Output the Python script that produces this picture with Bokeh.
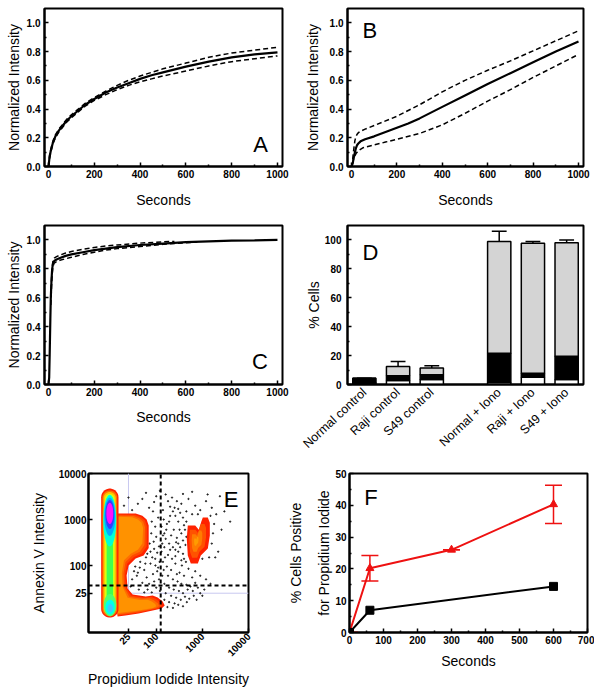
import numpy as np
from bokeh.plotting import figure
from bokeh.layouts import row, column
from bokeh.models import (FixedTicker, PrintfTickFormatter, NumeralTickFormatter,
                          Range1d, FactorRange, ColumnDataSource)
from bokeh.transform import dodge
from bokeh.core.properties import value
from bokeh.embed import file_html
from bokeh.resources import INLINE

FONT = "Liberation Sans"

# ---------------- Panel A ----------------
a_t = [0, 5, 10, 20, 30, 45, 60, 80, 100, 130, 160, 200, 250, 300, 350, 400, 450, 500, 600, 700, 800, 900, 1000]
a_mean = [0, 0.07, 0.11, 0.17, 0.21, 0.25, 0.28, 0.32, 0.35, 0.39, 0.43, 0.47, 0.515, 0.55, 0.58, 0.61, 0.635, 0.655, 0.695, 0.73, 0.76, 0.78, 0.795]
a_upper = [0, 0.08, 0.12, 0.18, 0.22, 0.26, 0.29, 0.33, 0.36, 0.40, 0.44, 0.48, 0.525, 0.565, 0.60, 0.63, 0.655, 0.68, 0.72, 0.76, 0.79, 0.81, 0.83]
a_lower = [0, 0.06, 0.10, 0.16, 0.20, 0.24, 0.27, 0.31, 0.34, 0.38, 0.42, 0.46, 0.50, 0.535, 0.565, 0.59, 0.61, 0.63, 0.665, 0.70, 0.73, 0.75, 0.77]

# ---------------- Panel B ----------------
b_t = [0, 5, 10, 15, 20, 25, 30, 40, 60, 100, 150, 200, 250, 300, 350, 400, 500, 600, 700, 800, 900, 1000]
b_mean = [0, 0.02, 0.06, 0.10, 0.13, 0.15, 0.16, 0.175, 0.19, 0.21, 0.24, 0.27, 0.30, 0.335, 0.375, 0.415, 0.495, 0.575, 0.65, 0.725, 0.80, 0.87]
b_up_t = [5, 10, 15, 20, 25, 30, 40, 60, 100, 200, 300, 400, 500, 600, 700, 800, 900, 1000]
b_upper = [0.05, 0.12, 0.18, 0.21, 0.225, 0.235, 0.245, 0.26, 0.285, 0.35, 0.43, 0.52, 0.60, 0.67, 0.735, 0.805, 0.875, 0.945]
b_lo_t = [5, 10, 20, 30, 50, 100, 150, 200, 300, 400, 500, 600, 700, 800, 900, 1000]
b_lower = [0.02, 0.06, 0.09, 0.11, 0.13, 0.15, 0.17, 0.19, 0.23, 0.29, 0.37, 0.455, 0.535, 0.62, 0.70, 0.78]

# ---------------- Panel C ----------------
c_t = [0, 3, 5, 8, 10, 13, 16, 20, 25, 35, 50, 75, 100, 150, 200, 250, 300, 400, 500, 600, 700, 800, 900, 1000]
c_mean = [0, 0.05, 0.2, 0.45, 0.6, 0.72, 0.8, 0.84, 0.855, 0.865, 0.875, 0.89, 0.9, 0.915, 0.93, 0.94, 0.95, 0.965, 0.975, 0.985, 0.99, 0.995, 0.997, 1.0]
c_up_t = [10, 15, 20, 25, 35, 50, 75, 100, 150, 200, 250, 300, 400, 500, 550]
c_upper = [0.6, 0.8, 0.86, 0.875, 0.885, 0.895, 0.91, 0.92, 0.935, 0.948, 0.958, 0.965, 0.978, 0.987, 0.99]
c_lo_t = [10, 15, 20, 25, 35, 50, 75, 100, 150, 200, 250, 300, 400, 500, 600, 650]
c_lower = [0.55, 0.75, 0.82, 0.84, 0.85, 0.86, 0.87, 0.88, 0.90, 0.915, 0.93, 0.94, 0.955, 0.97, 0.98, 0.985]

time_ticks = [0, 200, 400, 600, 800, 1000]
time_minor = [100, 300, 500, 700, 900]
norm_ticks = [0, 0.2, 0.4, 0.6, 0.8, 1.0]
norm_minor = [0.1, 0.3, 0.5, 0.7, 0.9]

# ---------------- Panel D ----------------
d_cats = ["Normal control", "Raji control", "S49 control",
          "Normal + Iono", "Raji + Iono", "S49 + Iono"]
d_factors = d_cats[:3] + [" "] + d_cats[3:]
d_white = [1.0, 2.8, 3.4, 1.3, 5.0, 3.4]
d_black = [3.3, 3.2, 3.3, 20.3, 2.8, 16.1]
d_grey = [0.0, 6.4, 4.8, 77.4, 89.9, 78.6]
d_err = [0.0, 3.5, 1.4, 7.0, 1.3, 1.9]
d_ticks = [0, 20, 40, 60, 80, 100]
d_minor = [10, 30, 50, 70, 90]

# ---------------- Panel E ----------------
e_ticks = [25, 100, 1000, 10000]
# scattered single events (PI, Annexin V)
e_dot_pi = [80, 95, 110, 78, 100, 88, 115, 72, 105, 60, 45, 35, 55, 75, 95, 40, 62, 85, 110, 30,
            50, 70, 90, 115, 28, 42, 65, 100, 120, 80, 55, 38, 75, 90, 64, 33, 105, 118, 82, 58,
            44, 96,
            140, 170, 210, 260, 320, 400, 500, 600, 180, 230, 290, 350, 450, 550, 700, 150, 190, 240,
            310, 380, 480, 620, 800, 160, 210, 270, 340, 420, 520, 650, 900, 150, 190, 250, 300, 380,
            460, 140, 175, 230, 135, 145, 155, 280, 360, 440, 700, 900, 1200, 1500, 1100, 750, 1000,
            135, 150, 170, 200, 240, 280, 330, 380, 420, 300, 250, 180, 140, 160, 220, 350, 450, 500,
            700, 900, 1200, 1600, 2000, 1800, 1700, 1600, 2200, 1400, 1000, 400, 260, 200, 130, 145,
            210, 320, 380, 430, 330, 260, 600, 800, 1500, 2400, 3000, 2600, 1900, 1300, 600, 380, 120,
            130, 140, 160, 190, 230, 270, 300, 350, 180, 220, 150, 165, 190, 230, 280, 200, 300, 380,
            450, 400, 350, 450, 300, 260,
            30, 40, 25, 50, 70, 90, 60, 100, 20, 85, 3500, 4000]
e_dot_annexin = [900, 700, 1100, 500, 420, 330, 260, 300, 190, 150, 120, 95, 80, 110, 140, 70, 55, 65, 90, 50,
                 42, 40, 45, 50, 35, 30, 30, 33, 28, 26, 26, 60, 200, 230, 180, 75, 75, 120, 150, 110,
                 90, 100,
                 120, 95, 80, 110, 70, 60, 85, 55, 60, 50, 45, 40, 38, 35, 42, 40, 33, 30,
                 28, 25, 30, 28, 33, 25, 22, 20, 18, 21, 19, 22, 25, 18, 16, 15, 14, 13,
                 16, 14, 12.5, 12, 60, 80, 150, 65, 100, 120, 75, 60, 50, 40, 30, 18, 22,
                 300, 500, 800, 1200, 600, 400, 250, 180, 600, 900, 1800, 2500, 1600, 3500, 3000, 2200, 1500, 2800,
                 2000, 1600, 2500, 1800, 1300, 800, 500, 300, 200, 150, 140, 140, 160, 220, 200, 1000,
                 450, 600, 350, 280, 1400, 1200, 1300, 1300, 1200, 3200, 1500, 600, 150, 3500, 4000, 3600, 4200,
                 700, 450, 380, 300, 250, 320, 200, 130, 170, 140, 250, 600, 900, 1500, 2500, 1900, 1700, 1100,
                 900, 750, 500, 420, 300, 220,
                 1600, 2200, 3000, 2800, 1800, 2400, 3800, 3200, 2000, 1500, 2500, 900]

# density-region outlines (PI, Annexin V)
e_col_x_lo = [6.4, 6.8, 7.2, 7.7, 8.4]
e_col_x_hi = [15.2, 14.2, 13.3, 12.5, 11.6]
e_col_y_lo = [7.4, 7.9, 8.5, 9.2, 10.5]
e_col_y_hi = [4700, 4300, 3950, 3600, 3200]
e_col_colors = ["#ff2200", "#ff7000", "#ffc400", "#d8ff10", "#40ff50"]

e_top_x_lo = [7.1, 7.5, 7.9, 8.3]
e_top_x_hi = [13.6, 12.9, 12.3, 11.7]
e_top_y_lo = [260, 440, 620, 800]
e_top_y_hi = [3450, 3000, 2650, 2300]
e_top_colors = ["#00ffd8", "#00aaff", "#3040ff", "#ff10ff"]

e_bot_x_lo = [7.3, 7.9, 8.8]
e_bot_x_hi = [13.6, 12.6, 11.5]
e_bot_y_lo = [7.9, 8.6, 9.6]
e_bot_y_hi = [24, 18, 14.5]
e_bot_colors = ["#50ff70", "#00fff0", "#40c8ff"]

e_l_outer_x = [14.5, 35.8, 50, 62, 68.6, 68.6, 53.3, 35.8, 25.2, 22.8, 23.9, 30.8, 59, 83.7, 107.5, 138, 152.7, 131, 83.7, 41.6, 21.5, 14.5]
e_l_outer_y = [1350, 1350, 1200, 1000, 742, 240, 165, 142, 100, 60.7, 31.6, 23.4, 21.2, 22.3, 20.2, 16.5, 13.5, 11.6, 10.5, 9.05, 8.2, 7.8]
e_l_inner_x = [14.5, 30, 40, 48, 52, 50, 40, 28, 20, 18, 18.5, 24, 45, 65, 80, 95, 100, 85, 60, 35, 20, 14.5]
e_l_inner_y = [1150, 1120, 1000, 850, 650, 300, 220, 180, 130, 70, 35, 20, 17.8, 18, 16.5, 14.5, 13, 12, 11.2, 10.3, 9.6, 9.2]
e_l_colors = ["#ff2200", "#ff4800", "#ff6e00", "#ff9200"]

e_r_x = [483, 700, 837, 950, 1022, 1313, 1451, 1451, 1313, 925, 797, 561, 483, 459]
e_r_y = [742, 742, 600, 900, 1105, 1105, 850, 449, 234, 165, 110, 110, 165, 386]
e_r_center = (720, 330)
e_r_colors = ["#ff2200", "#ff5200", "#ff7c00", "#ff9c00"]

e_gate = 25
e_quad_pi = 125
e_quad_annexin = 37
e_x_lim = (3.4, 10000)
e_y_lim = (3.5, 10000)

# ---------------- Panel F ----------------
f_t = [0, 60, 300, 600]
f_red = [0, 20.2, 26, 40.3]
f_red_err = [0, 4.0, 0, 6.0]
f_black_t = [0, 60, 600]
f_black = [0, 7.0, 14.5]
f_xticks = [0, 100, 200, 300, 400, 500, 600, 700]
f_xminor = [50, 150, 250, 350, 450, 550, 650]
f_yticks = [0, 10, 20, 30, 40, 50]
f_yminor = [5, 15, 25, 35, 45]

RED = "#ee1111"

# panel letters: (x, y) in each panel's data units
letters = {"A": (926, 0.15), "B": (81, 0.945), "C": (923, 0.16),
           "D": (0.68, 91), "E": (4200, 2720), "F": (63, 42.3)}


def fig(fw, fh, left, right, top, bottom, **kw):
    return figure(frame_width=fw, frame_height=fh, min_border_left=left, min_border_right=right,
                  min_border_top=top, min_border_bottom=bottom, title=None,
                  output_backend="svg", toolbar_location=None, **kw)


def style(p, xlabel=None, ylabel=None, xls=10, yls=2, xts=3, yts=4):
    p.outline_line_color = "black"
    p.outline_line_width = 2
    p.background_fill_color = "white"
    p.border_fill_color = "white"
    p.xgrid.visible = False
    p.ygrid.visible = False
    for ax in list(p.xaxis) + list(p.yaxis):
        ax.axis_line_width = 2
        ax.major_tick_in = 4
        ax.major_tick_out = 0
        ax.minor_tick_in = 2
        ax.minor_tick_out = 0
        ax.major_tick_line_width = 1.5
        ax.minor_tick_line_width = 1.5
        ax.major_label_text_font = FONT
        ax.major_label_text_font_size = "10px"
        ax.major_label_text_font_style = "bold"
        ax.major_label_text_color = "black"
        ax.axis_label_text_font = FONT
        ax.axis_label_text_font_size = "14px"
        ax.axis_label_text_font_style = "normal"
        ax.axis_label_text_color = "black"
    p.xaxis.major_label_standoff = xts
    p.yaxis.major_label_standoff = yts
    p.xaxis.axis_label_standoff = xls
    p.yaxis.axis_label_standoff = yls
    if xlabel:
        p.xaxis.axis_label = xlabel
    if ylabel:
        p.yaxis.axis_label = ylabel


def letter(p, key):
    x, y = letters[key]
    p.text(x=[x], y=[y], text=[key], text_font=value(FONT), text_font_size=value("22px"),
           text_align="center", text_baseline="middle", text_color="black")


def time_axes(p):
    p.xaxis.ticker = FixedTicker(ticks=time_ticks, minor_ticks=time_minor)
    p.yaxis.ticker = FixedTicker(ticks=norm_ticks, minor_ticks=norm_minor)
    p.yaxis.formatter = PrintfTickFormatter(format="%.1f")


def curves(p, t, mean, ut, up, lt, lo):
    p.line(ut, up, line_width=1.5, color="black", line_dash="5 3")
    p.line(lt, lo, line_width=1.5, color="black", line_dash="5 3")
    p.line(t, mean, line_width=2.2, color="black")


# ---- A
pA = fig(238, 158, 44, 18, 8, 51, x_range=Range1d(-17.5, 1022), y_range=Range1d(0, 1.1))
curves(pA, a_t, a_mean, a_t, a_upper, a_t, a_lower)
style(pA, "Seconds", "Normalized Intensity", xls=11)
time_axes(pA)
letter(pA, "A")

# ---- B
pB = fig(236, 158, 47, 10, 8, 51, x_range=Range1d(-17.6, 1022), y_range=Range1d(0, 1.1))
curves(pB, b_t, b_mean, b_up_t, b_upper, b_lo_t, b_lower)
style(pB, "Seconds", "Normalized Intensity", xls=11, yls=6)
time_axes(pB)
letter(pB, "B")

# ---- C
pC = fig(238, 159, 44, 18, 8, 76, x_range=Range1d(-17.5, 1022), y_range=Range1d(0, 1.1))
curves(pC, c_t, c_mean, c_up_t, c_upper, c_lo_t, c_lower)
style(pC, "Seconds", "Normalized Intensity", xls=10)
time_axes(pC)
letter(pC, "C")

# ---- D
tops = [w + b + g for w, b, g in zip(d_white, d_black, d_grey)]
dsrc = ColumnDataSource(dict(cat=d_cats, white=d_white, black=d_black, grey=d_grey,
                             top=tops, etop=[t + e for t, e in zip(tops, d_err)]))
pD = fig(236, 159, 47, 10, 8, 76, x_range=FactorRange(factors=d_factors, range_padding=0),
         y_range=Range1d(0, 110))
pD.segment(x0="cat", y0="top", x1="cat", y1="etop", source=dsrc, line_width=1.5, color="black")
pD.segment(x0=dodge("cat", -0.22, range=pD.x_range), y0="etop",
           x1=dodge("cat", 0.22, range=pD.x_range), y1="etop", source=dsrc, line_width=1.5, color="black")
pD.vbar_stack(["white", "black", "grey"], x="cat", width=0.69, source=dsrc,
              fill_color=["white", "black", "#d4d4d4"], line_color="black", line_width=1.5)
style(pD, None, "% Cells", yls=0, yts=6)
pD.yaxis.ticker = FixedTicker(ticks=d_ticks, minor_ticks=d_minor)
pD.xaxis.major_tick_in = 0
pD.xaxis.major_tick_out = 0
pD.xaxis.major_label_orientation = 0.75
pD.xaxis.major_label_text_font_style = "normal"
pD.xaxis.major_label_text_font_size = "12.5px"
pD.xaxis.major_label_standoff = 6
letter(pD, "D")

# ---- E


def stadium(xlo, xhi, ylo, yhi, n=18):
    lx0, lx1, ly0, ly1 = np.log10([xlo, xhi, ylo, yhi])
    cx, r = (lx0 + lx1) / 2, (lx1 - lx0) / 2
    a = np.linspace(0, np.pi, n)
    xs = np.concatenate([cx + r * np.cos(a), cx + r * np.cos(a + np.pi)])
    ys = np.concatenate([ly1 - r + r * np.sin(a), ly0 + r + r * np.sin(a + np.pi)])
    return 10 ** xs, 10 ** ys


def ellipse(xlo, xhi, ylo, yhi, n=40):
    lx0, lx1, ly0, ly1 = np.log10([xlo, xhi, ylo, yhi])
    a = np.linspace(0, 2 * np.pi, n)
    xs = (lx0 + lx1) / 2 + (lx1 - lx0) / 2 * np.cos(a)
    ys = (ly0 + ly1) / 2 + (ly1 - ly0) / 2 * np.sin(a)
    return 10 ** xs, 10 ** ys


pE = fig(160, 159, 88, 37, 13, 54, x_axis_type="log", y_axis_type="log",
         x_range=Range1d(*e_x_lim), y_range=Range1d(*e_y_lim))
# light gating lines
pE.segment(x0=[e_gate, e_gate], y0=[e_gate, e_gate], x1=[e_gate, e_x_lim[1]], y1=[e_y_lim[1], e_gate],
           line_color="#c8c8f0", line_width=1)
pE.scatter(e_dot_pi, e_dot_annexin, size=1.3, color="#222222", marker="circle")

lox, loy = np.log10(e_l_outer_x), np.log10(e_l_outer_y)
lix, liy = np.log10(e_l_inner_x), np.log10(e_l_inner_y)
for i, c in enumerate(e_l_colors):
    f = i / (len(e_l_colors) - 1)
    pE.patch(10 ** (lox + (lix - lox) * f), 10 ** (loy + (liy - loy) * f), fill_color=c, line_color=None)

rx, ry = np.log10(e_r_x), np.log10(e_r_y)
cx, cy = np.log10(e_r_center)
for i, c in enumerate(e_r_colors):
    s = 1 - 0.27 * i
    pE.patch(10 ** (cx + (rx - cx) * s), 10 ** (cy + (ry - cy) * s), fill_color=c, line_color=None)

for xlo, xhi, ylo, yhi, c in zip(e_col_x_lo, e_col_x_hi, e_col_y_lo, e_col_y_hi, e_col_colors):
    xs, ys = stadium(xlo, xhi, ylo, yhi)
    pE.patch(xs, ys, fill_color=c, line_color=None)
for xlo, xhi, ylo, yhi, c in zip(e_top_x_lo, e_top_x_hi, e_top_y_lo, e_top_y_hi, e_top_colors):
    xs, ys = ellipse(xlo, xhi, ylo, yhi)
    pE.patch(xs, ys, fill_color=c, line_color=None)
for xlo, xhi, ylo, yhi, c in zip(e_bot_x_lo, e_bot_x_hi, e_bot_y_lo, e_bot_y_hi, e_bot_colors):
    xs, ys = ellipse(xlo, xhi, ylo, yhi)
    pE.patch(xs, ys, fill_color=c, line_color=None)

pE.segment(x0=[e_quad_pi, e_x_lim[0]], y0=[e_y_lim[0], e_quad_annexin],
           x1=[e_quad_pi, e_x_lim[1]], y1=[e_y_lim[1], e_quad_annexin],
           line_color="black", line_width=2, line_dash="4 3")
style(pE, "Propidium Iodide Intensity", "Annexin V Intensity", xls=8, yls=9, xts=2, yts=2)
pE.xaxis.ticker = FixedTicker(ticks=e_ticks, minor_ticks=[])
pE.yaxis.ticker = FixedTicker(ticks=e_ticks, minor_ticks=[])
pE.xaxis.formatter = NumeralTickFormatter(format="0")
pE.yaxis.formatter = NumeralTickFormatter(format="0")
pE.xaxis.major_label_orientation = 0.785
letter(pE, "E")

# ---- F
pF = fig(238, 159, 63, 7, 13, 54, x_range=Range1d(0, 700), y_range=Range1d(0, 50))
lo = [v - e for v, e in zip(f_red, f_red_err)]
hi = [v + e for v, e in zip(f_red, f_red_err)]
pF.segment(x0=f_t, y0=lo, x1=f_t, y1=hi, color=RED, line_width=1.5)
pF.segment(x0=[t - 25 for t in f_t], y0=hi, x1=[t + 25 for t in f_t], y1=hi, color=RED, line_width=1.5)
pF.segment(x0=[t - 25 for t in f_t], y0=lo, x1=[t + 25 for t in f_t], y1=lo, color=RED, line_width=1.5)
pF.line(f_t, f_red, color=RED, line_width=2)
pF.scatter(f_t, f_red, marker="triangle", size=8, color=RED)
pF.line(f_black_t, f_black, color="black", line_width=2)
pF.scatter(f_black_t, f_black, marker="square", size=8, color="black")
style(pF, "Seconds", "% Cells Positive\nfor Propidium Iodide", xls=6, yls=0, xts=3, yts=3)
pF.yaxis.axis_label_text_line_height = 1.75
pF.xaxis.ticker = FixedTicker(ticks=f_xticks, minor_ticks=f_xminor)
pF.yaxis.ticker = FixedTicker(ticks=f_yticks, minor_ticks=f_yminor)
letter(pF, "F")

layout = column(row(pA, pB), row(pC, pD), row(pE, pF))
open("out.html", "w").write(file_html(layout, INLINE))
